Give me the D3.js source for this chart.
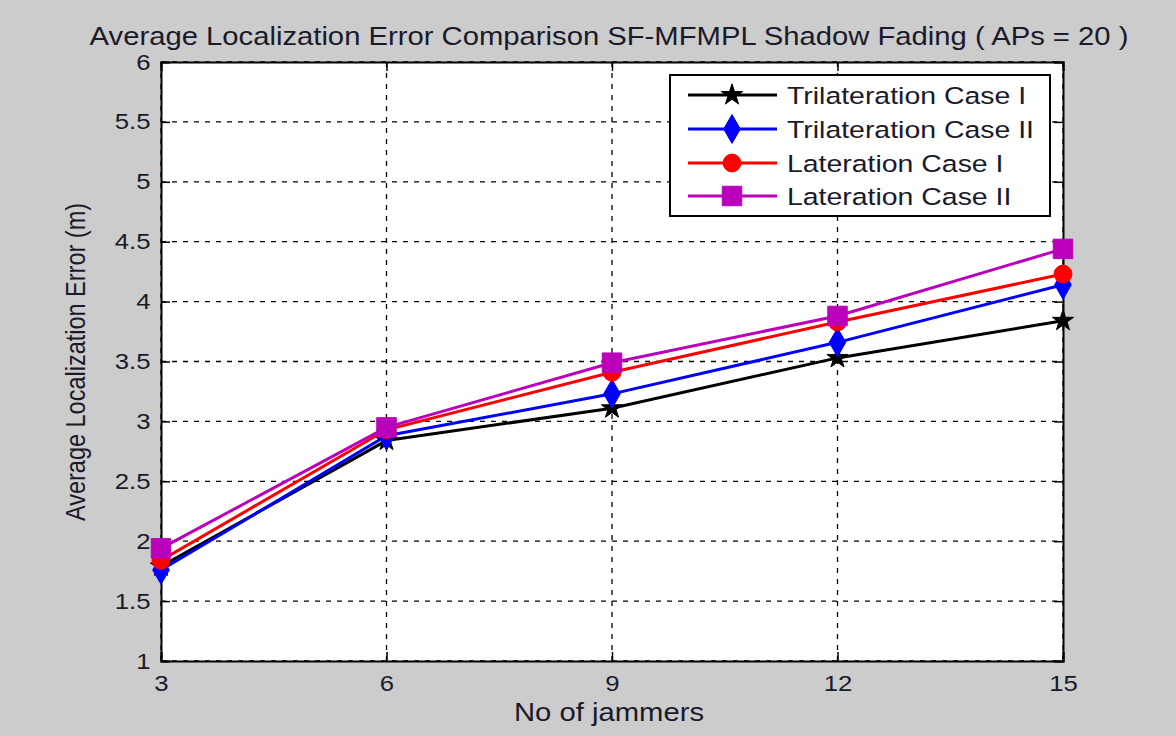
<!DOCTYPE html>
<html><head><meta charset="utf-8">
<script src="https://cdn.jsdelivr.net/npm/d3@7"></script>
<style>body{margin:0;background:#cccccc;} text{font-family:"Liberation Sans",Arial,sans-serif;fill:#1a1a2a;}</style>
</head><body>
<svg id="chart" width="1176" height="736"></svg>
<script>
const jammers = [3, 6, 9, 12, 15];
const trilatCase1 = [1.79, 2.84, 3.11, 3.53, 3.84];
const trilatCase2 = [1.76, 2.88, 3.23, 3.66, 4.14];
const laterCase1 = [1.84, 2.93, 3.41, 3.83, 4.23];
const laterCase2 = [1.94, 2.95, 3.49, 3.88, 4.44];
const seriesNames = ["Trilateration Case I", "Trilateration Case II", "Lateration Case I", "Lateration Case II"];
const yTicks = [1, 1.5, 2, 2.5, 3, 3.5, 4, 4.5, 5, 5.5, 6];

const series = [
  {name: seriesNames[0], values: trilatCase1, color: "#000000", sym: d3.symbolStar, size: 140},
  {name: seriesNames[1], values: trilatCase2, color: "#0000ff", sym: d3.symbolDiamond, size: 240},
  {name: seriesNames[2], values: laterCase1, color: "#ff0000", sym: d3.symbolCircle, size: 250},
  {name: seriesNames[3], values: laterCase2, color: "#bb00bb", sym: d3.symbolSquare, size: 380}
];

const SX = 1.17; // horizontal stretch of text in the reference
const svg = d3.select("#chart");
const L = 161, R = 1063, T = 62, B = 661;
const x = d3.scaleLinear().domain([3, 15]).range([L, R]);
const y = d3.scaleLinear().domain([1, 6]).range([B, T]);

svg.append("rect").attr("width", 1176).attr("height", 736).attr("fill", "#cccccc");
svg.append("rect").attr("x", L).attr("y", T).attr("width", R - L).attr("height", B - T).attr("fill", "#ffffff");

// grid
const g = svg.append("g");
g.selectAll(".vg").data(jammers).enter().append("line")
  .attr("x1", d => x(d)).attr("x2", d => x(d)).attr("y1", T).attr("y2", B)
  .attr("stroke", "#000").attr("stroke-width", 1.3).attr("stroke-dasharray", "5,6");
g.selectAll(".hg").data(yTicks).enter().append("line")
  .attr("x1", L).attr("x2", R).attr("y1", d => y(d)).attr("y2", d => y(d))
  .attr("stroke", "#000").attr("stroke-width", 1.3).attr("stroke-dasharray", "5,6");

// axes
const axB = d3.axisBottom(x).tickValues(jammers).tickSize(-9).tickPadding(14).tickFormat(d3.format("d"));
const axT = d3.axisTop(x).tickValues(jammers).tickSize(-9).tickFormat("");
const axLft = d3.axisLeft(y).tickValues(yTicks).tickSize(-9).tickPadding(9).tickFormat(d => d);
const axRt = d3.axisRight(y).tickValues(yTicks).tickSize(-9).tickFormat("");
function styleAx(sel){
  sel.select(".domain").attr("stroke", "#000").attr("stroke-width", 2);
  sel.selectAll(".tick line").attr("stroke", "#000").attr("stroke-width", 1.5);
  sel.selectAll(".tick text").style("font-size", "22px").attr("fill", "#1a1a2a")
    .style("font-family", "Liberation Sans, Arial, sans-serif").attr("transform", `scale(${SX},1)`);
}
svg.append("g").attr("transform", `translate(0,${B})`).call(axB).call(styleAx);
svg.append("g").attr("transform", `translate(0,${T})`).call(axT).call(styleAx);
svg.append("g").attr("transform", `translate(${L},0)`).call(axLft).call(styleAx);
svg.append("g").attr("transform", `translate(${R},0)`).call(axRt).call(styleAx);

// lines
const line = d3.line().x((d, i) => x(jammers[i])).y(d => y(d));
series.forEach(s => {
  svg.append("path").attr("d", line(s.values)).attr("fill", "none")
    .attr("stroke", s.color).attr("stroke-width", 3);
});
series.forEach(s => {
  svg.selectAll(null).data(s.values).enter().append("path")
    .attr("d", d3.symbol().type(s.sym).size(s.size))
    .attr("transform", (d, i) => `translate(${x(jammers[i])},${y(d)})`)
    .attr("fill", s.color).attr("stroke", s.color).attr("stroke-width", 1);
});

// title & labels
svg.append("text").attr("transform", `translate(609,45) scale(${SX},1)`).attr("text-anchor", "middle")
  .style("font-size", "25px").text("Average Localization Error Comparison SF-MFMPL Shadow Fading ( APs = 20 )");
svg.append("text").attr("transform", `translate(609,721) scale(${SX},1)`).attr("text-anchor", "middle")
  .style("font-size", "25px").text("No of jammers");
svg.append("text").attr("transform", `translate(85,362) scale(${SX},1) rotate(-90)`).attr("text-anchor", "middle")
  .style("font-size", "23.5px").text("Average Localization Error (m)");

// legend
const lg = svg.append("g");
lg.append("rect").attr("x", 670).attr("y", 75).attr("width", 380).attr("height", 141)
  .attr("fill", "#fff").attr("stroke", "#000").attr("stroke-width", 2);
const ly = [95, 129, 163, 196];
series.forEach((s, i) => {
  lg.append("line").attr("x1", 688).attr("x2", 777).attr("y1", ly[i]).attr("y2", ly[i])
    .attr("stroke", s.color).attr("stroke-width", 3);
  lg.append("path").attr("d", d3.symbol().type(s.sym).size(s.size))
    .attr("transform", `translate(732,${ly[i]})`).attr("fill", s.color).attr("stroke", s.color);
  lg.append("text").attr("transform", `translate(787,${ly[i] + 9}) scale(${SX},1)`)
    .style("font-size", "24.3px").text(s.name);
});
</script>
</body></html>
